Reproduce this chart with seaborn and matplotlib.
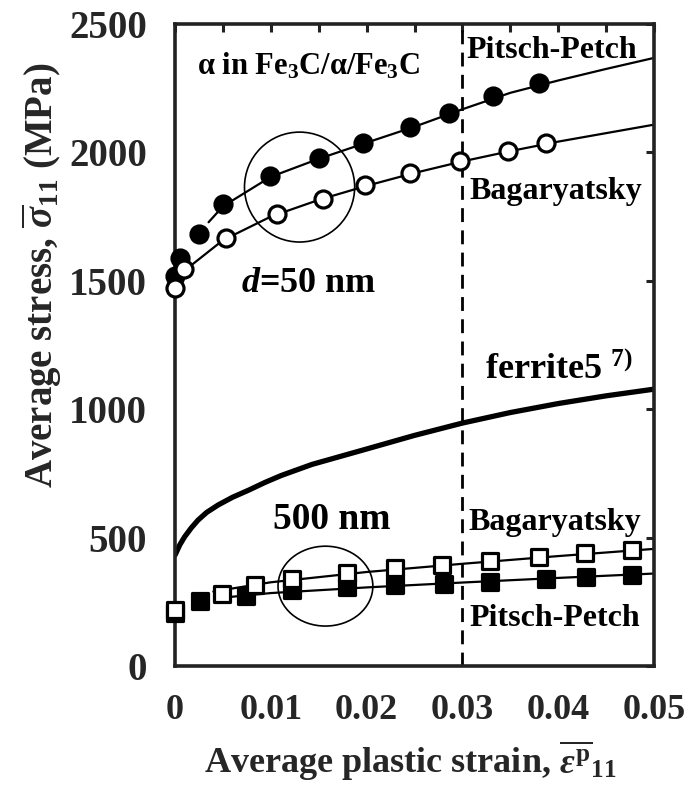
import matplotlib
matplotlib.use("Agg")
import matplotlib.pyplot as plt
from matplotlib.patches import Arc
import seaborn as sns

# 50 nm, Pitsch-Petch (filled circles)
pp50_x = [0.0, 0.0005, 0.0025, 0.005, 0.0099, 0.015, 0.0196, 0.0245, 0.0286, 0.0332, 0.038]
pp50_y = [1520, 1590, 1683, 1800, 1910, 1980, 2035, 2100, 2155, 2220, 2272]
pp50_line_x = [0.0035, 0.005, 0.01, 0.015, 0.02, 0.025, 0.03, 0.035, 0.04, 0.045, 0.05]
pp50_line_y = [1728, 1790, 1905, 1975, 2038, 2100, 2168, 2232, 2280, 2325, 2368]

# 50 nm, Bagaryatsky (open circles)
bg50_x = [0.0, 0.0009, 0.0053, 0.0106, 0.0154, 0.0198, 0.0245, 0.0297, 0.0348, 0.0387]
bg50_y = [1470, 1545, 1665, 1760, 1820, 1872, 1918, 1965, 2005, 2035]
bg50_line_x = [0.001, 0.005, 0.01, 0.015, 0.02, 0.025, 0.03, 0.035, 0.04, 0.045, 0.05]
bg50_line_y = [1540, 1658, 1750, 1815, 1870, 1920, 1965, 2005, 2042, 2075, 2108]

# ferrite5 (ref. 7)
fe_x = [0.0, 0.0005, 0.001, 0.0017, 0.0024, 0.0033, 0.0045, 0.006, 0.0077, 0.0094, 0.0111,
        0.0143, 0.02, 0.025, 0.03, 0.035, 0.04, 0.045, 0.05]
fe_y = [432, 472, 503, 538, 568, 598, 627, 657, 685, 715, 742,
        785, 845, 898, 946, 987, 1022, 1052, 1078]

# 500 nm, Bagaryatsky (open squares)
bg500_x = [0.0, 0.0049, 0.0083, 0.0122, 0.018, 0.023, 0.0279, 0.0329, 0.038, 0.0428, 0.0477]
bg500_y = [218, 281, 314, 340, 362, 380, 393, 408, 426, 440, 452]
bg500_line_x = [0.004, 0.01, 0.02, 0.03, 0.04, 0.05]
bg500_line_y = [290, 326, 366, 398, 428, 456]

# 500 nm, Pitsch-Petch (filled squares)
pp500_x = [0.0, 0.0026, 0.0074, 0.0122, 0.018, 0.023, 0.0281, 0.0329, 0.0387, 0.0429, 0.0477]
pp500_y = [205, 255, 274, 294, 307, 314, 320, 327, 340, 347, 353]
pp500_line_x = [0.0055, 0.01, 0.02, 0.03, 0.04, 0.05]
pp500_line_y = [268, 284, 306, 325, 343, 360]

x_ticks = [0, 0.01, 0.02, 0.03, 0.04, 0.05]
x_tick_labels = ["0", "0.01", "0.02", "0.03", "0.04", "0.05"]
y_ticks = [0, 500, 1000, 1500, 2000, 2500]

sns.set_style("white")
plt.rcParams["font.family"] = ["Liberation Serif", "DejaVu Serif"]
plt.rcParams["font.weight"] = "bold"
plt.rcParams["mathtext.fontset"] = "custom"
plt.rcParams["mathtext.rm"] = "Liberation Serif:bold"
plt.rcParams["mathtext.bf"] = "Liberation Serif:bold"
plt.rcParams["mathtext.it"] = "Liberation Serif:italic:bold"

fig = plt.figure(figsize=(6.91, 7.92), dpi=100)
ax = fig.add_axes([0.2533, 0.1591, 0.6932, 0.8106])

def line(x, y, lw):
    sns.lineplot(x=x, y=y, ax=ax, color="black", linewidth=lw, sort=False,
                 estimator=None, legend=False)

line(pp50_line_x, pp50_line_y, 1.6)
line(bg50_line_x, bg50_line_y, 1.6)
line(fe_x, fe_y, 3.8)
line(bg500_line_x, bg500_line_y, 1.6)
line(pp500_line_x, pp500_line_y, 1.6)

def pts(x, y, marker, filled, size):
    sns.scatterplot(x=x, y=y, ax=ax, marker=marker, s=size,
                    facecolor="black" if filled else "white",
                    edgecolor="black", linewidth=2.3, zorder=5, clip_on=False)

pts(pp500_x, pp500_y, "s", True, 125)
pts(bg500_x, bg500_y, "s", False, 125)
pts(pp50_x, pp50_y, "o", True, 150)
pts(bg50_x, bg50_y, "o", False, 150)

ax.axvline(0.03, color="black", linestyle=(0, (5, 3)), linewidth=2.0)

# grouping arcs
ax.add_patch(Arc((0.0130, 1865), 0.0115, 428, theta1=-130, theta2=153,
                 color="black", linewidth=1.2))
ax.add_patch(Arc((0.0157, 311), 0.0099, 311, theta1=-156, theta2=144,
                 color="black", linewidth=1.2))

ax.set_xlim(0, 0.05)
ax.set_ylim(0, 2500)
ax.set_xticks(x_ticks)
ax.set_xticklabels(x_tick_labels)
ax.set_xticks([0.005, 0.015, 0.025, 0.035, 0.045], minor=True)
ax.set_yticks(y_ticks)
ax.set_yticklabels([str(v) for v in y_ticks])
ax.tick_params(axis="both", which="both", direction="in", top=True, right=True,
               length=6, width=2.2, color="#222222")
ax.tick_params(axis="x", labelsize=26, pad=20)
ax.tick_params(axis="y", labelsize=28, pad=20)
for s in ax.spines.values():
    s.set_linewidth(2.6)
    s.set_color("#222222")

fig.text(0.593, 0.024, r"Average plastic strain, $\overline{\varepsilon^{\rm p}}_{11}$",
         fontsize=26, fontweight="bold", ha="center", va="baseline")
fig.text(0.061, 0.653, r"Average stress, $\overline{\sigma}_{11}$ (MPa)",
         fontsize=28, fontweight="bold", ha="center", va="center", rotation=90)

tk = dict(fontweight="bold", color="black", va="center")
ax.text(0.0023, 2336, r"α in Fe$_3$C/α/Fe$_3$C", fontsize=22, **tk)
ax.text(0.0304, 2395, "Pitsch-Petch", fontsize=23, **tk)
ax.text(0.0307, 1846, "Bagaryatsky", fontsize=23, **tk)
ax.text(0.0069, 1491, r"$d$=50 nm", fontsize=26, **tk)
ax.text(0.0324, 1153, r"ferrite5 $^{7)}$", fontsize=26, **tk)
ax.text(0.0102, 572, "500 nm", fontsize=27, **tk)
ax.text(0.0306, 557, "Bagaryatsky", fontsize=23, **tk)
ax.text(0.0307, 183, "Pitsch-Petch", fontsize=23, **tk)

fig.savefig("out.png", dpi=100)
